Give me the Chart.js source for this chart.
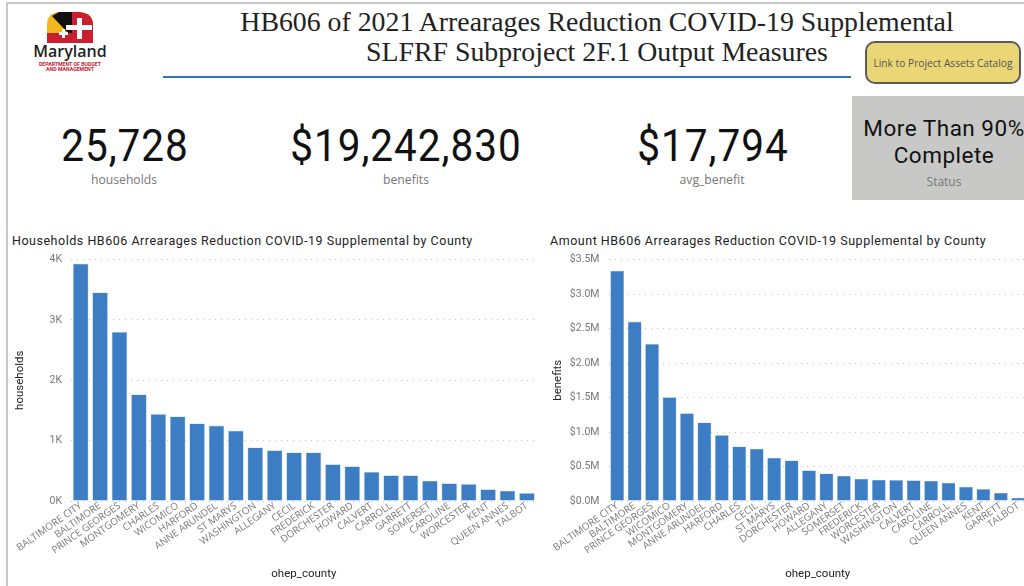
<!DOCTYPE html>
<html>
<head>
<meta charset="utf-8">
<script src="https://cdn.jsdelivr.net/npm/chart.js@4/dist/chart.umd.min.js"></script>
<style>
html, body { margin:0; padding:0; background:#fff; }
#page { position:relative; width:1024px; height:586px; overflow:hidden; background:#fff; font-family:Roboto, sans-serif; color:#111; }
#page > * { position:absolute; }
.txt { white-space:nowrap; transform:translateX(-50%); text-align:center; }
.kpi { font-size:45px; line-height:52px; letter-spacing:1.1px; top:120px; transform:translateX(-50%) scaleX(.9); }
.cap { font-size:12.2px; line-height:16px; color:#777; font-family:"Open Sans", sans-serif; top:172px; }
.ctitle { font-size:12.5px; line-height:16px; letter-spacing:.52px; top:233px; white-space:nowrap; color:#222; }
canvas { position:absolute; }
</style>
</head>
<body>
<div id="page">
	<div style="left:6px; top:2px; width:2px; height:584px; background:#c8c8c8"></div>
	<div style="left:6px; top:2px; width:1018px; height:2px; background:#c8c8c8"></div>

	<svg style="left:46px; top:11px" width="48" height="34" viewBox="0 0 48 34">
		<path d="M1 22 V14 Q1 2 13 1 H33 Q47 2 47 14 V22 Z" fill="#f3b81f"/>
		<path d="M6 5 L13 1 H26 L34 22 H22 Z" fill="#111"/>
		<path d="M26 1 H33 Q47 2 47 14 V22 H26 Z" fill="#c8202f"/>
		<path d="M1 22 H47 V32 H1 Z" fill="#c8202f"/>
		<path d="M31 7 h5 v7 h10 v5 h-10 v9 h-5 v-9 h-11 v-5 h11 z" fill="#fff"/>
		<path d="M16 18 h3 v3 h3 v3 h-3 v3 h-3 v-3 h-3 v-3 h3 z" fill="#fff"/>
	</svg>
	<div class="txt" style="left:70px; top:42px; font-family:'Open Sans',sans-serif; font-size:16px; line-height:19px; font-weight:600; color:#222">Maryland</div>
	<div class="txt" style="left:70px; top:62px; font-size:5.2px; line-height:5px; font-weight:700; color:#c8202f">DEPARTMENT OF BUDGET<br>AND MANAGEMENT</div>

	<div class="txt" style="left:597px; top:7px; font-family:'Liberation Serif',serif; font-size:27.8px; line-height:30px; color:#222">HB606 of 2021 Arrearages Reduction COVID-19 Supplemental<br>SLFRF Subproject 2F.1 Output Measures</div>
	<div style="left:163px; top:76px; width:688px; height:2px; background:#2f75b5"></div>

	<div style="left:865px; top:41px; width:152px; height:39px; background:#ebd675; border:2px solid #5a5a5a; border-radius:10px"></div>
	<div class="txt" style="left:943px; top:55px; font-family:'Open Sans',sans-serif; font-size:10.2px; line-height:16px; color:#555">Link to Project Assets Catalog</div>

	<div class="txt kpi" style="left:125px">25,728</div>
	<div class="txt cap" style="left:124px">households</div>
	<div class="txt kpi" style="left:406px">$19,242,830</div>
	<div class="txt cap" style="left:406px">benefits</div>
	<div class="txt kpi" style="left:713px">$17,794</div>
	<div class="txt cap" style="left:712px">avg_benefit</div>

	<div style="left:852px; top:96px; width:172px; height:104px; background:#c8c9c7"></div>
	<div class="txt" style="left:944px; top:115px; font-size:22.5px; line-height:27px; letter-spacing:.5px">More Than 90%<br>Complete</div>
	<div class="txt cap" style="left:944px; top:174px; font-size:12px">Status</div>

	<div class="ctitle" style="left:12px">Households HB606 Arrearages Reduction COVID-19 Supplemental by County</div>
	<div class="ctitle" style="left:550px">Amount HB606 Arrearages Reduction COVID-19 Supplemental by County</div>

	<canvas id="c1" style="left:8px; top:250px; width:532px; height:332px"></canvas>
	<canvas id="c2" style="left:540px; top:250px; width:490px; height:332px"></canvas>
</div>
<script>
const countiesHouseholds = ['BALTIMORE CITY','BALTIMORE','PRINCE GEORGES','MONTGOMERY','CHARLES','WICOMICO','HARFORD','ANNE ARUNDEL','ST MARYS','WASHINGTON','ALLEGANY','CECIL','FREDERICK','DORCHESTER','HOWARD','CALVERT','CARROLL','GARRETT','SOMERSET','CAROLINE','WORCESTER','KENT','QUEEN ANNES','TALBOT']
const households = [3930,3454,2800,1766,1440,1400,1285,1250,1164,888,839,805,805,607,574,480,425,425,337,292,281,193,171,132]
const householdTicks = ['0K','1K','2K','3K','4K']

const countiesBenefits = ['BALTIMORE CITY','BALTIMORE','PRINCE GEORGES','WICOMICO','MONTGOMERY','ANNE ARUNDEL','HARFORD','CHARLES','CECIL','ST MARYS','DORCHESTER','HOWARD','ALLEGANY','SOMERSET','FREDERICK','WORCESTER','WASHINGTON','CALVERT','CAROLINE','CARROLL','QUEEN ANNES','KENT','GARRETT','TALBOT']
const benefits = [3337000,2600000,2276000,1504000,1273000,1138000,955000,791000,757000,627000,588000,444000,400000,366000,323000,309000,304000,299000,294000,265000,207000,174000,120000,48000]
const benefitTicks = ['$0.0M','$0.5M','$1.0M','$1.5M','$2.0M','$2.5M','$3.0M','$3.5M']

const barChart = (id, labels, values, tickLabels, step, yName, yWidth, rightPad, titleInset) => new Chart(document.getElementById(id), {
	type: 'bar',
	data: {
		labels: labels,
		datasets: [{
			data: values,
			backgroundColor: '#3c7dc4',
			borderColor: '#a9cdec',
			borderWidth: 0.6,
			categoryPercentage: 1,
			barPercentage: 0.8,
		}]
	},
	options: {
		responsive: false,
		animation: false,
		devicePixelRatio: 1,
		layout: { padding: { top: 9.5, right: rightPad, left: 0, bottom: 0 } },
		plugins: { legend: { display: false }, tooltip: { enabled: false } },
		scales: {
			x: {
				grid: { display: false },
				border: { display: false },
				ticks: {
					autoSkip: false, maxRotation: 35, minRotation: 35, padding: -9,
					color: '#777', font: { family: 'Open Sans', size: 9.9 },
				},
				title: { display: true, text: 'ohep_county', color: '#222', font: { family: 'Roboto', size: 11.5 }, padding: { top: 0, bottom: 1 } },
				afterFit: s => { s.height = 81; s.paddingLeft = 0; s.paddingRight = 0 },
			},
			y: {
				min: 0,
				max: step * (tickLabels.length - 1),
				grid: { color: '#c4c4c4', drawTicks: false },
				border: { display: false, dash: [1, 5] },
				ticks: {
					stepSize: step, padding: 9,
					color: '#777', font: { family: 'Roboto', size: 10.5 },
					callback: v => tickLabels[Math.round(v / step)],
				},
				title: { display: true, text: yName, color: '#222', font: { family: 'Roboto', size: 11.5 }, padding: { top: titleInset, bottom: 0 } },
				afterFit: s => { s.width = yWidth; s.paddingTop = 0; s.paddingBottom = 0 },
			},
		},
	}
})

barChart('c1', countiesHouseholds, households, householdTicks, 1000, 'households', 63, 3.4, 5)
barChart('c2', countiesBenefits, benefits, benefitTicks, 500000, 'benefits', 68.5, 3, 11)
</script>
</body>
</html>
